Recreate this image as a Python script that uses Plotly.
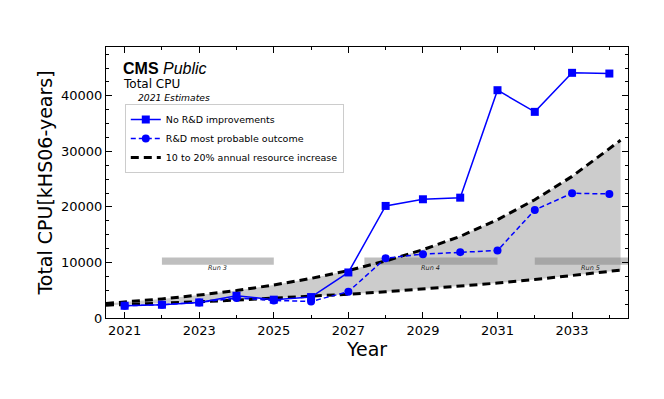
import plotly.graph_objects as go

years = [2021, 2022, 2023, 2024, 2025, 2026, 2027, 2028, 2029, 2030, 2031, 2032, 2033, 2034]
no_rd = [2210, 2390, 2800, 4000, 3300, 3770, 8200, 20180, 21380, 21670, 41020, 37120, 44150, 44020]
rd_prob = [2210, 2390, 2800, 3600, 3160, 2980, 4730, 10780, 11500, 11860, 12150, 19460, 22460, 22340]

band_years = [2020.5, 2021, 2022, 2023, 2024, 2025, 2026, 2027, 2028, 2029, 2030, 2031, 2032, 2033, 2034, 2034.3]
band_upper = [2620, 2870, 3440, 4130, 4950, 5940, 7130, 8550, 10270, 12300, 14700, 17700, 21300, 25500, 30600, 32000]
band_lower = [2310, 2420, 2670, 2930, 3230, 3550, 3900, 4290, 4720, 5200, 5720, 6290, 6920, 7610, 8370, 8620]

run_names = ["Run 3", "Run 4", "Run 5"]
run_start = [2022.0, 2027.43, 2032.0]
run_end = [2025.0, 2031.0, 2035.0]
run_low = 9600
run_high = 10900
run_label_y = 9000

font = "DejaVu Sans"
fig = go.Figure()

# shaded band
fig.add_trace(go.Scatter(x=band_years, y=band_lower, mode="lines", line=dict(width=0),
                         showlegend=False, hoverinfo="skip"))
fig.add_trace(go.Scatter(x=band_years, y=band_upper, mode="lines", line=dict(width=0),
                         fill="tonexty", fillcolor="rgb(204,204,204)",
                         showlegend=False, hoverinfo="skip"))

# run bars
for name, s, e in zip(run_names, run_start, run_end):
    fig.add_trace(go.Scatter(x=[s, e, e, s, s], y=[run_low, run_low, run_high, run_high, run_low],
                             mode="lines", fill="toself", fillcolor="rgba(128,128,128,0.5)",
                             line=dict(width=0), showlegend=False, hoverinfo="skip"))
    fig.add_annotation(x=(s + e) / 2, y=run_label_y, text="<i>" + name + "</i>", showarrow=False,
                       font=dict(family=font, size=6.5, color="#222222"), xanchor="center", yanchor="middle")

# dashed band edges
fig.add_trace(go.Scatter(x=band_years, y=band_upper, mode="lines",
                         line=dict(color="black", width=3, dash="8px,5px"),
                         name="10 to 20% annual resource increase", legendrank=3))
fig.add_trace(go.Scatter(x=band_years, y=band_lower, mode="lines",
                         line=dict(color="black", width=3, dash="8px,5px"),
                         showlegend=False))

fig.add_trace(go.Scatter(x=years, y=rd_prob, mode="lines+markers",
                         line=dict(color="#0000ff", width=1.5, dash="5px,3px"),
                         marker=dict(symbol="circle", size=8, color="#0000ff"),
                         name="R&D most probable outcome", legendrank=2))
fig.add_trace(go.Scatter(x=years, y=no_rd, mode="lines+markers",
                         line=dict(color="#0000ff", width=1.5),
                         marker=dict(symbol="square", size=8, color="#0000ff"),
                         name="No R&D improvements", legendrank=1))

fig.add_annotation(xref="paper", yref="paper", x=0.029, y=0.92, xanchor="left", yanchor="middle",
                   text="<b>CMS</b> <i>Public</i>", showarrow=False,
                   font=dict(family="Liberation Sans", size=16, color="black"))
fig.add_annotation(xref="paper", yref="paper", x=0.029, y=0.864, xanchor="left", yanchor="middle",
                   text="Total CPU", showarrow=False,
                   font=dict(family=font, size=12, color="black"))
fig.add_annotation(xref="paper", yref="paper", x=0.058, y=0.814, xanchor="left", yanchor="middle",
                   text="<i>2021 Estimates</i>", showarrow=False,
                   font=dict(family=font, size=9.2, color="black"))

axis_common = dict(showline=True, linecolor="black", linewidth=1, mirror="allticks",
                   ticks="inside", ticklen=6, tickcolor="black", showgrid=False, zeroline=False,
                   automargin=False,
                   tickfont=dict(family=font, size=13, color="black"))

fig.update_xaxes(range=[2020.5, 2034.5], tick0=2021, dtick=2,
                 minor=dict(ticks="inside", dtick=1, tick0=2021, ticklen=3, tickcolor="black"),
                 title=dict(text="Year", font=dict(family=font, size=19, color="black"), standoff=2),
                 **axis_common)
fig.update_yaxes(range=[0, 48800], tick0=0, dtick=10000, tickformat="d",
                 minor=dict(ticks="inside", dtick=2500, ticklen=3, tickcolor="black"),
                 title=dict(text="Total CPU[kHS06-years]", font=dict(family=font, size=19, color="black"), standoff=3),
                 **axis_common)

fig.update_layout(
    width=656, height=391,
    margin=dict(l=98, r=36, t=39, b=81),
    plot_bgcolor="white", paper_bgcolor="white",
    font=dict(family=font, color="black"),
    legend=dict(x=0.036, y=0.79, xanchor="left", yanchor="top", traceorder="normal",
                bgcolor="white", bordercolor="#cccccc", borderwidth=1,
                font=dict(family=font, size=9.5, color="black"),
                tracegroupgap=0, itemwidth=30),
)

fig.write_html("out.html")
